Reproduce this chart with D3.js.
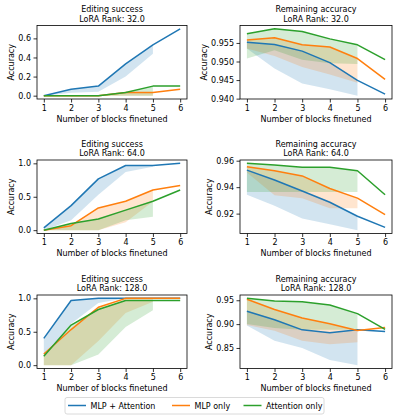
<!DOCTYPE html>
<html>
<head>
<meta charset="utf-8">
<script src="https://cdn.jsdelivr.net/npm/d3@7"></script>
<style>
  body { margin: 0; background: #fff; }
  svg { display: block; font-family: "DejaVu Sans", sans-serif; }
</style>
</head>
<body>
<div id="chart"></div>
<script>
// blocks finetuned (x) and the part where the shaded band is drawn
var blocks = [1, 2, 3, 4, 5, 6];
var bandBlocks = [1, 2, 3, 4, 5];
var seriesNames = ["MLP + Attention", "MLP only", "Attention only"];
var seriesColors = ["#1f77b4", "#ff7f0e", "#2ca02c"];

// LoRA rank 32
var edit32 = [
  [0, 0.067, 0.1, 0.333, 0.533, 0.7],
  [0, 0, 0, 0.033, 0.033, 0.067],
  [0, 0, 0, 0.033, 0.1, 0.1]
];
var edit32Low = [
  [0, 0.03, 0.04, 0.2, 0.44],
  [0, 0, 0, 0, 0],
  [0, 0, 0, 0, 0]
];
var remain32 = [
  [0.9552, 0.9546, 0.9528, 0.9497, 0.9449, 0.9412],
  [0.9558, 0.9564, 0.9545, 0.9539, 0.9508, 0.9452],
  [0.9575, 0.9588, 0.9581, 0.9561, 0.9545, 0.9505]
];
var remain32Low = [
  [0.9535, 0.9481, 0.9441, 0.9425, 0.9408],
  [0.9535, 0.9515, 0.9485, 0.9465, 0.9443],
  [0.9508, 0.953, 0.9505, 0.9495, 0.9493]
];

// LoRA rank 64
var edit64 = [
  [0.033, 0.367, 0.767, 0.967, 0.967, 1.0],
  [0, 0.067, 0.333, 0.433, 0.6, 0.667],
  [0, 0.1, 0.167, 0.3, 0.433, 0.6]
];
var edit64Low = [
  [0, 0.15, 0.53, 0.87, 0.95],
  [0, 0, 0, 0.12, 0.43],
  [0, 0, 0, 0.15, 0.2]
];
var remain64 = [
  [0.9529, 0.9454, 0.9371, 0.9286, 0.918, 0.9096],
  [0.9555, 0.9524, 0.9485, 0.939, 0.9317, 0.9193],
  [0.958, 0.9568, 0.955, 0.955, 0.9524, 0.9343]
];
var remain64Low = [
  [0.9343, 0.926, 0.9163, 0.9119, 0.9075],
  [0.951, 0.9338, 0.9317, 0.924, 0.924],
  [0.9364, 0.9364, 0.9364, 0.9364, 0.9364]
];

// LoRA rank 128
var edit128 = [
  [0.4, 0.967, 1.0, 1.0, 1.0, 1.0],
  [0.167, 0.533, 0.867, 1.0, 1.0, 1.0],
  [0.133, 0.6, 0.833, 0.967, 0.967, 0.967]
];
var edit128Low = [
  [0.13, 0.62, 0.93, 1.0, 1.0],
  [0, 0, 0.36, 0.78, 0.95],
  [0, 0, 0.16, 0.57, 0.82]
];
var remain128 = [
  [0.927, 0.9093, 0.888, 0.8817, 0.888, 0.8845],
  [0.952, 0.9306, 0.9128, 0.9008, 0.8866, 0.893],
  [0.954, 0.9483, 0.9468, 0.94, 0.922, 0.889]
];
var remain128Low = [
  [0.897, 0.865, 0.85, 0.825, 0.814],
  [0.898, 0.886, 0.865, 0.858, 0.862],
  [0.9, 0.892, 0.888, 0.888, 0.888]
];

// y tick values per panel
var ticksEdit32 = [0, 0.2, 0.4, 0.6];
var ticksRemain32 = [0.94, 0.945, 0.95, 0.955];
var ticksEdit64 = [0, 0.5, 1.0];
var ticksRemain64 = [0.92, 0.94, 0.96];
var ticksEdit128 = [0, 0.5, 1.0];
var ticksRemain128 = [0.85, 0.9, 0.95];

var ranks = ["32.0", "64.0", "128.0"];

var panels = [
  { row: 0, col: 0, title: "Editing success", lines: edit32, lows: edit32Low, ticks: ticksEdit32, fmt: ".1f" },
  { row: 0, col: 1, title: "Remaining accuracy", lines: remain32, lows: remain32Low, ticks: ticksRemain32, fmt: ".3f" },
  { row: 1, col: 0, title: "Editing success", lines: edit64, lows: edit64Low, ticks: ticksEdit64, fmt: ".1f" },
  { row: 1, col: 1, title: "Remaining accuracy", lines: remain64, lows: remain64Low, ticks: ticksRemain64, fmt: ".2f" },
  { row: 2, col: 0, title: "Editing success", lines: edit128, lows: edit128Low, ticks: ticksEdit128, fmt: ".1f" },
  { row: 2, col: 1, title: "Remaining accuracy", lines: remain128, lows: remain128Low, ticks: ticksRemain128, fmt: ".2f" }
];

var width = 398, height = 419;
var colLeft = [37, 240], colRight = [187, 392];
var rowTop = [25.5, 160, 295], axH = 73.5;
var fontSize = 8;

var svg = d3.select("#chart").append("svg")
  .attr("width", width)
  .attr("height", height);

svg.append("rect").attr("width", width).attr("height", height).attr("fill", "#fff");

panels.forEach(function (p) {
  var left = colLeft[p.col], right = colRight[p.col];
  var top = rowTop[p.row], bottom = top + axH;

  var x = d3.scaleLinear().domain([0.75, 6.25]).range([left, right]);

  var all = d3.merge(p.lines.concat(p.lows));
  var lo = d3.min(all), hi = d3.max(all), pad = (hi - lo) * 0.05;
  var y = d3.scaleLinear().domain([lo - pad, hi + pad]).range([bottom, top]);

  var g = svg.append("g");

  // shaded bands, between the low edge and the line itself
  p.lows.forEach(function (low, i) {
    var area = d3.area()
      .x(function (d, j) { return x(bandBlocks[j]); })
      .y0(function (d) { return y(d); })
      .y1(function (d, j) { return y(p.lines[i][j]); });
    g.append("path")
      .datum(low)
      .attr("d", area)
      .attr("fill", seriesColors[i])
      .attr("fill-opacity", 0.2);
  });

  p.lines.forEach(function (vals, i) {
    var line = d3.line()
      .x(function (d, j) { return x(blocks[j]); })
      .y(function (d) { return y(d); });
    g.append("path")
      .datum(vals)
      .attr("d", line)
      .attr("fill", "none")
      .attr("stroke", seriesColors[i])
      .attr("stroke-width", 1.5)
      .attr("stroke-linejoin", "round");
  });

  var xAxis = d3.axisBottom(x).tickValues(blocks).tickFormat(d3.format("d"))
    .tickSize(3.5).tickPadding(2.5);
  var yAxis = d3.axisLeft(y).tickValues(p.ticks).tickFormat(d3.format(p.fmt))
    .tickSize(3.5).tickPadding(2.5);

  var xg = g.append("g").attr("transform", "translate(0," + bottom + ")").call(xAxis);
  var yg = g.append("g").attr("transform", "translate(" + left + ",0)").call(yAxis);
  [xg, yg].forEach(function (a) {
    a.select(".domain").remove();
    a.selectAll("line").attr("stroke", "#000").attr("stroke-width", 0.8);
    a.selectAll("text").attr("fill", "#000").style("font-size", fontSize + "px")
      .style("font-family", "DejaVu Sans");
  });

  g.append("rect")
    .attr("x", left).attr("y", top)
    .attr("width", right - left).attr("height", bottom - top)
    .attr("fill", "none").attr("stroke", "#000").attr("stroke-width", 0.8);

  var cx = (left + right) / 2;
  g.append("text").attr("x", cx).attr("y", top - 13.5)
    .attr("text-anchor", "middle").style("font-size", fontSize + "px")
    .text(p.title);
  g.append("text").attr("x", cx).attr("y", top - 4)
    .attr("text-anchor", "middle").style("font-size", fontSize + "px")
    .text("LoRA Rank: " + ranks[p.row]);

  g.append("text").attr("x", cx).attr("y", bottom + 22.5)
    .attr("text-anchor", "middle").style("font-size", fontSize + "px")
    .text("Number of blocks finetuned");

  var bb = yg.node().getBBox();
  var lx = left + bb.x - 4;
  g.append("text")
    .attr("transform", "translate(" + lx + "," + ((top + bottom) / 2) + ") rotate(-90)")
    .attr("text-anchor", "middle").style("font-size", fontSize + "px")
    .text("Accuracy");
});

// legend
var legend = svg.append("g");
legend.append("rect")
  .attr("x", 65).attr("y", 397.5).attr("width", 259).attr("height", 16.5)
  .attr("rx", 2).attr("fill", "#fff").attr("stroke", "#d0d0d0").attr("stroke-width", 0.8);

var legendX = [68, 172, 243.5];
seriesNames.forEach(function (name, i) {
  var lx = legendX[i];
  legend.append("line")
    .attr("x1", lx).attr("x2", lx + 18).attr("y1", 405.5).attr("y2", 405.5)
    .attr("stroke", seriesColors[i]).attr("stroke-width", 1.5);
  legend.append("text")
    .attr("x", lx + 22.5).attr("y", 408.5)
    .style("font-size", fontSize + "px")
    .text(name);
});
</script>
</body>
</html>
